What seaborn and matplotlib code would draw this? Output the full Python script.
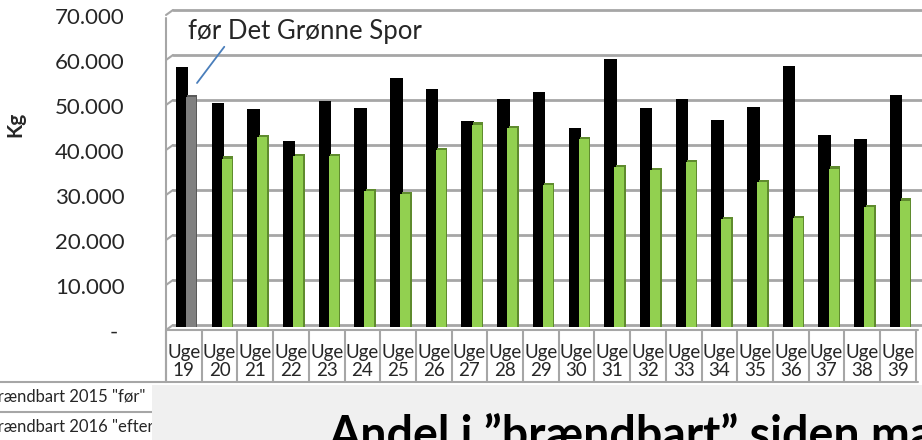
"""
Brændbart affald pr. uge, 2015 "før" mod 2016 "efter" Det Grønne Spor.
Excel-agtigt 3D søjlediagram med datatabel under.
"""

import numpy as np
import matplotlib
matplotlib.use("Agg")
import matplotlib.pyplot as plt
import seaborn as sns
from matplotlib.lines import Line2D
from matplotlib.patches import Rectangle
from matplotlib.transforms import blended_transform_factory, ScaledTranslation

# data (kg pr. uge)
weeks = [19, 20, 21, 22, 23, 24, 25, 26, 27, 28, 29, 30, 31, 32, 33, 34, 35, 36, 37, 38, 39]
kg_2015 = [57800, 49800, 48400, 41300, 50300, 48700, 55300, 52800, 45800, 50700, 52200,
           44300, 59600, 48700, 50600, 46100, 48900, 58000, 42600, 41800, 51500]
kg_2016 = [51100, 37400, 42200, 37900, 38000, 30200, 29600, 39300, 45000, 44200, 31500,
           41800, 35600, 34800, 36700, 23900, 32200, 24200, 35200, 26700, 28100]
series_names = ['Brændbart 2015 "før"', 'Brændbart 2016 "efter"']
y_ticks = [0, 10000, 20000, 30000, 40000, 50000, 60000, 70000]
annotation = "før Det Grønne Spor"
title = "Andel i \u201dbrændbart\u201d siden ma"

sns.set_style("white")
plt.rcParams["font.family"] = ["Lato", "DejaVu Sans"]

W, H = 922, 440
fig = plt.figure(figsize=(W / 100, H / 100), dpi=100)
fig.patch.set_facecolor("white")


def fx(x):
    return x / W


def fy(y):
    return 1 - y / H


# plot area: floor at y=327px, 10.000 kg = 45px, first cell starts at x=166px
ax_left, ax_bottom, ax_top = 166, 327, 327 - 315
ax = fig.add_axes([fx(ax_left), fy(ax_bottom), fx(W - ax_left), (ax_bottom - ax_top) / H])
cell = 35.7
n = len(weeks)
pos = np.arange(n)
unit = 1000 / 4.5  # data units per pixel

grid_col = "#a6a6a6"
bar_kw = dict(native_scale=True, saturation=1, orient="x", errorbar=None, linewidth=0, ax=ax)
n0 = len(ax.patches)
sns.barplot(x=pos - 0.05, y=kg_2015, width=0.35, color="black", **bar_kw)
n1 = len(ax.patches)
sns.barplot(x=pos + 0.24, y=np.array(kg_2016) + 500, width=0.28, color="#5f8b2e", **bar_kw)
n2 = len(ax.patches)
sns.barplot(x=pos + 0.20, y=kg_2016, width=0.28, color="#92d050", **bar_kw)
# første uge 2016 er "før" -> grå
ax.patches[n1].set_facecolor("#5a5a5a")
ax.patches[n2].set_facecolor("#808080")
for p in ax.patches[n0:]:
    p.set_zorder(2)

ax.set_xlim(-0.5, -0.5 + (W - ax_left) / cell)
ax.set_ylim(0, 70000)
for s in ax.spines.values():
    s.set_visible(False)
ax.grid(False)

# 3D vægge: gitterlinjer på bagvæggen + skrå streger på sidevæggen
yax = ax.get_yaxis_transform()
dx = 7 / (W - ax_left)
for v in y_ticks:
    ax.plot([dx, 1], [v + 2 * unit, v + 2 * unit], color=grid_col, lw=2,
            transform=yax, clip_on=False, zorder=0.5)
    ax.plot([0, dx], [v - 3 * unit, v + 2 * unit], color=grid_col, lw=1.5,
            transform=yax, clip_on=False, zorder=0.5)

# ticks
ax.set_yticks(y_ticks)
ax.set_yticklabels(["- "] + [f"{v:,}".replace(",", ".") for v in y_ticks[1:]], fontsize=16)
ax.tick_params(axis="y", length=0, pad=30)
for lab in ax.get_yticklabels():
    lab.set_transform(lab.get_transform() + ScaledTranslation(0, -0.04, fig.dpi_scale_trans))
ax.set_xticks(pos)
ax.set_xticklabels([f"Uge\n{w}" for w in weeks], fontsize=13.5, linespacing=1.12)
ax.tick_params(axis="x", length=0, pad=12)

ax.set_ylabel("Kg", fontsize=15, fontweight="bold")
ax.yaxis.set_label_coords((25 - ax_left) / (W - ax_left), (ax_bottom - 124) / (ax_bottom - ax_top))

ax.annotate(annotation, xy=((197 - ax_left) / cell - 0.5, (ax_bottom - 83) * unit),
            xytext=((188 - ax_left) / cell - 0.5, (ax_bottom - 31) * unit),
            fontsize=18.5, ha="left", va="center",
            arrowprops=dict(arrowstyle="-", color="#4a7ebb", lw=1.3, shrinkA=0, shrinkB=0,
                            relpos=(0.21, 0.55)), zorder=5, annotation_clip=False)

# ramme, gulv og datatabel
line_kw = dict(color=grid_col, lw=1.5)
fig.add_artist(Line2D([fx(165.5), fx(165.5)], [fy(18), fy(382)], **line_kw))
fig.add_artist(Line2D([fx(166), fx(918)], [fy(330), fy(330)], **line_kw))
fig.add_artist(Line2D([0, fx(918)], [fy(382), fy(382)], **line_kw))
fig.add_artist(Line2D([0, fx(152)], [fy(412), fy(412)], **line_kw))
tab = blended_transform_factory(ax.transData, fig.transFigure)
for b in np.append(pos - 0.5, pos[-1] + 0.5):
    fig.add_artist(Line2D([b, b], [fy(330), fy(382)], transform=tab, **line_kw))

# seriernes navne i datatabellen (venstre del er skåret af)
row1 = fig.text(fx(145), fy(397), series_names[0], fontsize=12, va="center", ha="right", zorder=1)
renderer = fig.canvas.get_renderer()
x0 = row1.get_window_extent(renderer).x0
fig.text(x0 / W, fy(427), series_names[1], fontsize=12, va="center", ha="left", zorder=1)

# grå baggrund under diagrammet med overskrift
fig.add_artist(Rectangle((fx(152), 0), 1, fy(385), transform=fig.transFigure,
                         facecolor="#f0f0f0", edgecolor="none", zorder=2))
fig.text(fx(328), fy(450), title, fontsize=33.5, fontweight="bold", ha="left",
         va="baseline", color="black", zorder=3)

fig.savefig("out.png", dpi=100)
